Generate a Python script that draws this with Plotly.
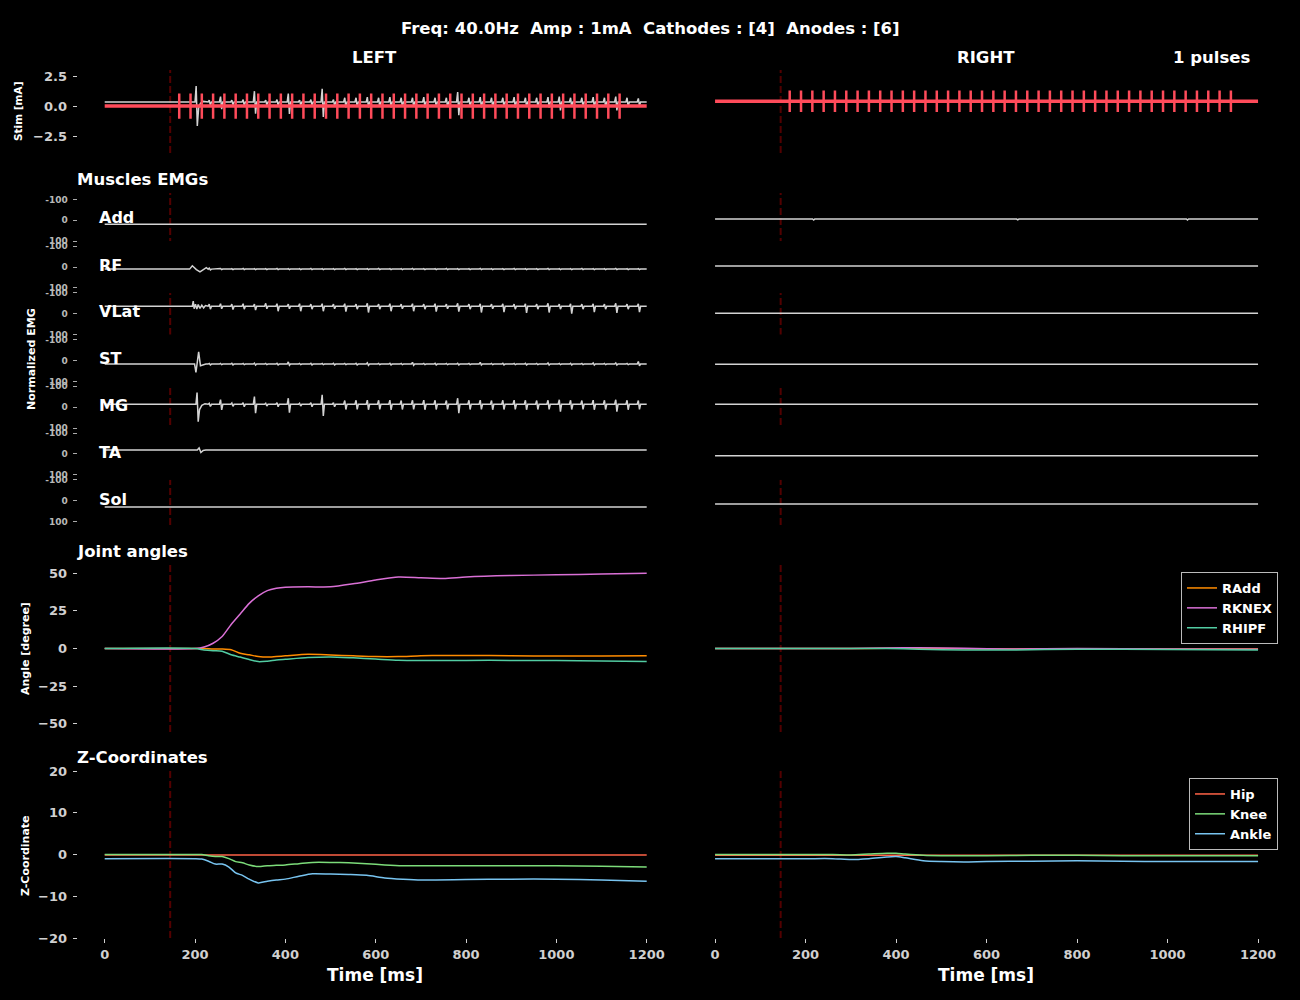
import plotly.graph_objects as go

# ---------------- data ----------------
TIME_RANGE = [-60, 1260]
TIME_TICKS = [0, 200, 400, 600, 800, 1000, 1200]
STIM_ONSET = 145

PULSE_T = [165, 190, 215, 240, 265, 290, 315, 340, 365, 390, 415, 440, 465, 490, 515, 540,
           565, 590, 615, 640, 665, 690, 715, 740, 765, 790, 815, 840, 865, 890, 915, 940,
           965, 990, 1015, 1040, 1065, 1090, 1115, 1140]
STIM_BASE_L, STIM_AMP_L = 0.0, 1.05
STIM_BASE_R, STIM_AMP_R = 0.4, 0.9

# response events (ms) after the first response burst
EMG_T = [230, 255, 280, 305, 330, 355, 380, 405, 430, 455, 480, 505, 530, 555, 580, 605,
         630, 655, 680, 705, 730, 755, 780, 805, 830, 855, 880, 905, 930, 955, 980, 1005,
         1030, 1055, 1080, 1105, 1130, 1155, 1180]

# stim-panel grey trace (mA)
STG_BASE = 0.34
STG_B_T = [200, 202.5, 205, 208, 212, 218, 226]
STG_B_V = [0, 1.33, -2.0, -0.5, -0.1, 0.05, 0]
STG_UP = [0.15, 0.45, 0.15, 0.2, 0.9, 0.15, 0.2, 0.7, 0.15, 0.2, 1.1, 0.2, 0.35, 0.35, 0.4, 0.35,
          0.4, 0.35, 0.35, 0.4, 0.35, 0.35, 0.83, 0.35, 0.4, 0.35, 0.35, 0.4, 0.35, 0.35, 0.4, 0.45,
          0.35, 0.35, 0.4, 0.35, 0.45, 0.35, 0.3]
STG_DN = [0.25, 0.6, 0.25, 0.3, 0.97, 0.25, 0.3, 1.0, 0.25, 0.3, 1.24, 0.3, 0.45, 0.4, 0.45, 0.4,
          0.45, 0.4, 0.4, 0.45, 0.4, 0.4, 1.1, 0.4, 0.45, 0.4, 0.4, 0.45, 0.4, 0.4, 0.45, 0.7,
          0.4, 0.4, 0.45, 0.4, 0.7, 0.4, 0.3]

MUSCLES = ["Add", "RF", "VLat", "ST", "MG", "TA", "Sol"]
EMG_BASE_L = [19, 10, -36, 17, -14, -19, 30]
EMG_BASE_R = [-6, -5, -2, 18, -14, 9, 16]

RF_B_T = [188, 194, 203, 211, 219, 225, 228]
RF_B_V = [0, -16, 2, 13, 2, -7, -2]
RF_L_UP = [5, 3, 2, 3, 2, 2, 3, 2, 2, 3, 2, 2, 3, 2, 2, 3, 2, 2, 3, 2, 2, 3, 2, 2, 3, 2, 2, 3, 2,
           2, 3, 2, 2, 3, 2, 2, 3, 2, 2]
RF_L_DN = [4, 2, 2, 2, 2, 2, 2, 2, 2, 2, 2, 2, 2, 2, 2, 2, 2, 2, 2, 2, 2, 2, 2, 2, 2, 2, 2, 2, 2,
           2, 2, 2, 2, 2, 2, 2, 2, 2, 2]

VLAT_B_T = [194, 196, 198, 201, 204, 207, 211, 215, 219, 223, 227]
VLAT_B_V = [0, -25, 12, -10, 14, -8, 10, -5, 8, -3, 0]
VLAT_L_UP = [10, 12, 10, 12, 10, 14, 12, 10, 12, 10, 12, 10, 12, 10, 14, 10, 12, 10, 12, 10, 12,
             10, 14, 10, 12, 10, 12, 10, 12, 10, 14, 10, 12, 10, 12, 10, 14, 10, 12]
VLAT_L_DN = [14, 12, 16, 14, 18, 12, 24, 12, 24, 14, 24, 12, 26, 14, 30, 14, 24, 12, 24, 14, 26,
             12, 26, 14, 30, 12, 28, 14, 32, 14, 30, 14, 36, 14, 28, 14, 32, 14, 28]

ST_B_T = [199, 202, 205, 208, 212, 217, 224]
ST_B_V = [0, 40, -10, -58, 8, 4, 0]
ST_L_UP = [3, 3, 4, 3, 4, 3, 4, 10, 3, 4, 3, 4, 3, 4, 6, 3, 4, 3, 8, 3, 4, 3, 4, 3, 8, 3, 4, 3,
           4, 3, 5, 3, 4, 3, 5, 3, 5, 3, 12]
ST_L_DN = [4, 3, 4, 3, 5, 3, 4, 6, 3, 4, 3, 4, 3, 4, 6, 3, 4, 3, 6, 3, 4, 3, 4, 3, 5, 3, 4, 3,
           4, 3, 5, 3, 4, 3, 5, 3, 5, 3, 8]

MG_B_T = [202, 204.5, 207, 210, 215, 222, 228]
MG_B_V = [0, -56, 83, 25, 5, -3, 0]
MG_L_UP = [5, 22, 6, 8, 37, 5, 8, 29, 5, 8, 45, 8, 18, 19, 20, 19, 20, 18, 19, 20, 19, 18, 29,
           19, 20, 18, 19, 20, 19, 18, 19, 22, 19, 18, 20, 19, 22, 19, 18]
MG_L_DN = [10, 27, 10, 12, 43, 8, 12, 40, 8, 12, 56, 12, 25, 24, 26, 24, 27, 25, 24, 26, 25, 24,
           43, 25, 24, 26, 25, 24, 26, 25, 24, 35, 25, 24, 26, 25, 35, 26, 24]

TA_B_T = [205, 209, 213, 218, 224]
TA_B_V = [0, -10, 12, 2, 0]

ADD_R_T = [214, 665, 1040]
ADD_R_UP = [0, 0, 0]
ADD_R_DN = [5, 4, 5]

# joint angles (deg)
ANG_T_L = [0, 200, 220, 240, 260, 280, 300, 320, 340, 360, 380, 400, 450, 500, 550, 600, 650,
           700, 750, 800, 900, 1000, 1100, 1200]
RADD_L = [0, 0, 0, -0.3, -0.3, -0.8, -3.2, -4.2, -5.3, -5.7, -5.3, -4.9, -3.9, -4.3, -4.9, -5.4,
          -5.4, -4.8, -4.6, -4.6, -4.8, -5.0, -5.0, -4.8]
RKNEX_L = [0, 0, 1, 3.5, 8, 16, 23, 30, 35, 38.5, 40, 40.7, 41, 41, 43, 45.5, 47.5, 47, 46.5,
           47.5, 48.5, 49, 49.5, 50]
RHIPF_L = [0, 0, -1, -1.5, -1.8, -4.2, -5.7, -7.3, -8.7, -8.4, -7.7, -7.2, -6, -5.6, -6.2, -7,
           -7.8, -8, -8, -7.9, -7.9, -8, -8.3, -8.7]
ANG_T_R = [0, 300, 380, 450, 550, 650, 800, 1000, 1200]
RADD_R = [0, 0, 0.2, 0.1, -0.2, -0.3, -0.2, -0.3, -0.3]
RKNEX_R = [0, 0, 0.3, 0.5, 0.2, -0.3, 0, -0.3, -0.5]
RHIPF_R = [0, 0, 0, -0.5, -1.0, -1.0, -0.5, -0.7, -1.0]

# Z coordinates
Z_T_L = [0, 200, 215, 230, 245, 260, 275, 290, 305, 320, 340, 360, 380, 400, 430, 460, 500,
         540, 580, 620, 660, 700, 800, 900, 1000, 1100, 1200]
KNEE_L = [0, 0, 0, -0.3, -0.5, -0.5, -1.0, -1.7, -2.0, -2.5, -2.9, -2.7, -2.6, -2.5, -2.2, -1.9,
          -1.9, -2.0, -2.2, -2.5, -2.7, -2.7, -2.7, -2.7, -2.7, -2.8, -3.0]
ANKLE_L = [-1, -1, -1.1, -1.6, -2.3, -2.3, -3.0, -4.4, -5.0, -5.9, -6.8, -6.4, -6.1, -5.9, -5.2,
           -4.6, -4.7, -4.8, -5.0, -5.6, -5.9, -6.1, -6.0, -5.9, -5.9, -6.1, -6.4]
HIP_T = [0, 1200]
HIP_L = [-0.1, -0.1]
HIP_R = [-0.2, -0.2]
Z_T_R = [0, 200, 260, 300, 340, 380, 400, 420, 460, 500, 550, 600, 700, 800, 900, 1000, 1100, 1200]
KNEE_R = [0, 0, 0, -0.1, 0.1, 0.3, 0.3, 0.1, -0.2, -0.3, -0.3, -0.3, -0.2, -0.2, -0.3, -0.3, -0.3, -0.3]
ANKLE_R = [-1, -1, -1, -1.2, -1.0, -0.6, -0.5, -0.8, -1.5, -1.7, -1.8, -1.7, -1.6, -1.5, -1.6, -1.7, -1.7, -1.7]

# ---------------- styles ----------------
W, H = 1300, 1000
FONT = "DejaVu Sans"
RED = "#ff4b5a"
GREY = "#d3d3d3"
DASH_COL = "rgba(139,0,0,0.6)"
C_RADD, C_RKNEX, C_RHIPF = "#ff8c00", "#da70d6", "#52cca2"
C_HIP, C_KNEE, C_ANKLE = "#ff6347", "#7cdc7a", "#78c4f0"
TICK_COL = "#d0d0d0"

COLS = [(77.6, 673.8), (687.9, 1285.2)]
EMG_C = [220.3 + 46.73 * k for k in range(7)]
ROWS = ([("stim", 70, 153, [-3.9, 3.0])]
        + [("emg", c - 26, c + 26, [124.4, -124.4]) for c in EMG_C]
        + [("ang", 565, 732, [-55.5, 55.5]), ("z", 771, 938, [-20, 20])])


def sfx(i):
    return "" if i == 1 else str(i)


def build(base, times, ups, downs, sign, burst_t=(), burst_v=()):
    pts = [(0, base), (1200, base)]
    for t, v in zip(burst_t, burst_v):
        pts.append((t, base + v))
    for t, u, d in zip(times, ups, downs):
        pts += [(t - 1, base), (t + 1.5, base + sign * u), (t + 4, base - sign * d), (t + 6.5, base)]
    pts.sort()
    return [p[0] for p in pts], [p[1] for p in pts]


fig = go.Figure()
layout = dict(width=W, height=H, paper_bgcolor="black", plot_bgcolor="black",
              margin=dict(l=0, r=0, t=0, b=0, pad=0, autoexpand=False),
              font=dict(family=FONT, color="white"), showlegend=True)
shapes = []

for ci, (xa, xb) in enumerate(COLS):
    for ri, (kind, ya, yb, rng) in enumerate(ROWS):
        n = ci * 10 + ri + 1
        bottom = ri == len(ROWS) - 1
        layout["xaxis" + sfx(n)] = dict(
            domain=[xa / W, xb / W], range=TIME_RANGE, anchor="y" + sfx(n), automargin=False,
            showgrid=False, zeroline=False, showline=False,
            showticklabels=bottom, ticks="outside" if bottom else "",
            tickvals=TIME_TICKS, ticklen=4, tickcolor=TICK_COL,
            tickfont=dict(size=13, color=TICK_COL, family=FONT, weight="bold"))
        yax = dict(domain=[1 - yb / H, 1 - ya / H], range=rng, anchor="x" + sfx(n),
                   automargin=False, showgrid=False, zeroline=False, showline=False,
                   showticklabels=(ci == 0), ticks="outside" if ci == 0 else "",
                   ticklen=4, tickcolor=TICK_COL, ticklabelstandoff=3)
        if kind == "stim":
            yax.update(tickvals=[-2.5, 0, 2.5], ticktext=["\u22122.5", "0.0", "2.5"],
                       tickfont=dict(size=13, color=TICK_COL, family=FONT, weight="bold"))
        elif kind == "emg":
            yax.update(tickvals=[-100, 0, 100], ticktext=["-100", "0", "100"],
                       tickcolor="#aaaaaa",
                       tickfont=dict(size=9, color="#b8b8b8", family=FONT, weight="bold"))
        elif kind == "ang":
            yax.update(tickvals=[-50, -25, 0, 25, 50],
                       ticktext=["\u221250", "\u221225", "0", "25", "50"],
                       tickfont=dict(size=13, color=TICK_COL, family=FONT, weight="bold"))
        else:
            yax.update(tickvals=[-20, -10, 0, 10, 20],
                       ticktext=["\u221220", "\u221210", "0", "10", "20"],
                       tickfont=dict(size=13, color=TICK_COL, family=FONT, weight="bold"))
        layout["yaxis" + sfx(n)] = yax

# dashed stimulation onset lines
for ci in range(2):
    xr = "x" + sfx(ci * 10 + 1)
    for (ya, yb) in [(70, 153), (193, 525), (565, 732), (771, 938)]:
        shapes.append(dict(type="line", xref=xr, yref="paper", x0=STIM_ONSET, x1=STIM_ONSET,
                           y0=1 - yb / H, y1=1 - ya / H, layer="below",
                           line=dict(color=DASH_COL, width=2, dash="7px,3px")))


def add(x, y, n, color, width=1.5, name=None, legend=None, smooth=False):
    line = dict(color=color, width=width)
    if smooth:
        line.update(shape="spline", smoothing=0.7)
    fig.add_trace(go.Scatter(x=x, y=y, mode="lines", xaxis="x" + sfx(n), yaxis="y" + sfx(n),
                             line=line, name=name, showlegend=legend is not None,
                             legend=legend if legend else "legend", hoverinfo="skip"))


# stim row
gx, gy = build(STG_BASE, EMG_T, STG_UP, STG_DN, 1, STG_B_T, STG_B_V)
add(gx, gy, 1, GREY, 1.5)
for n, base, amp in [(1, STIM_BASE_L, STIM_AMP_L), (11, STIM_BASE_R, STIM_AMP_R)]:
    add([0, 1200], [base, base], n, RED, 3.5)
    px, py = [], []
    for t in PULSE_T:
        px += [t, t, None]
        py += [base - amp, base + amp, None]
    add(px, py, n, RED, 2.5)

# EMG rows
left_events = {
    "Add": ([], [], [], (), ()),
    "RF": (EMG_T, RF_L_UP, RF_L_DN, RF_B_T, RF_B_V),
    "VLat": (EMG_T, VLAT_L_UP, VLAT_L_DN, VLAT_B_T, VLAT_B_V),
    "ST": (EMG_T, ST_L_UP, ST_L_DN, ST_B_T, ST_B_V),
    "MG": (EMG_T, MG_L_UP, MG_L_DN, MG_B_T, MG_B_V),
    "TA": ([], [], [], TA_B_T, TA_B_V),
    "Sol": ([], [], [], (), ()),
}
for k, m in enumerate(MUSCLES):
    t, u, d, bt, bv = left_events[m]
    x, y = build(EMG_BASE_L[k], t, u, d, -1, bt, bv)
    add(x, y, 2 + k, GREY, 1.5)
    if m == "Add":
        x, y = build(EMG_BASE_R[k], ADD_R_T, ADD_R_UP, ADD_R_DN, -1)
    else:
        x, y = build(EMG_BASE_R[k], [], [], [], -1)
    add(x, y, 12 + k, GREY, 1.5)

# joint angles
add(ANG_T_L, RADD_L, 9, C_RADD, smooth=True)
add(ANG_T_L, RKNEX_L, 9, C_RKNEX, smooth=True)
add(ANG_T_L, RHIPF_L, 9, C_RHIPF, smooth=True)
add(ANG_T_R, RADD_R, 19, C_RADD, name="RAdd", legend="legend", smooth=True)
add(ANG_T_R, RKNEX_R, 19, C_RKNEX, name="RKNEX", legend="legend", smooth=True)
add(ANG_T_R, RHIPF_R, 19, C_RHIPF, name="RHIPF", legend="legend", smooth=True)

# Z coordinates
add(HIP_T, HIP_L, 10, C_HIP)
add(Z_T_L, KNEE_L, 10, C_KNEE, smooth=True)
add(Z_T_L, ANKLE_L, 10, C_ANKLE, smooth=True)
add(HIP_T, HIP_R, 20, C_HIP, name="Hip", legend="legend2")
add(Z_T_R, KNEE_R, 20, C_KNEE, name="Knee", legend="legend2", smooth=True)
add(Z_T_R, ANKLE_R, 20, C_ANKLE, name="Ankle", legend="legend2", smooth=True)

leg_style = dict(bgcolor="black", bordercolor="#bbbbbb", borderwidth=1,
                 font=dict(family=FONT, size=13, color="white", weight="bold"),
                 xanchor="right", yanchor="top", itemwidth=30)
layout["legend"] = dict(x=1278 / W, y=1 - 572 / H, **leg_style)
layout["legend2"] = dict(x=1278 / W, y=1 - 778 / H, **leg_style)

# annotations
ann = []


def text(s, x, y, size, xanchor="center", angle=0, color="white"):
    ann.append(dict(text="<b>" + s + "</b>", x=x / W, y=1 - y / H, xref="paper", yref="paper",
                    showarrow=False, xanchor=xanchor, yanchor="middle", textangle=angle,
                    font=dict(family=FONT, size=size, color=color)))


NB = "\u00a0"
text("Freq: 40.0Hz" + NB * 2 + "Amp : 1mA" + NB * 2 + "Cathodes : [4]" + NB * 2 + "Anodes : [6]",
     650, 28, 16.5)
text("LEFT", 375, 57, 16.5)
text("RIGHT", 986, 57, 16.5)
text("1 pulses", 1211, 57, 16.5)
text("Muscles EMGs", 75, 180, 16.5, "left")
text("Joint angles", 75, 551, 16.5, "left")
text("Z-Coordinates", 75, 757, 16.5, "left")
LABEL_Y = [217.5, 265.3, 311.7, 358.8, 405.7, 452.7, 499.0]
for m, yy in zip(MUSCLES, LABEL_Y):
    text(m, 97, yy, 16, "left")
text("Stim [mA]", 18, 112, 10.5, angle=-90)
text("Normalized EMG", 31, 359, 11, angle=-90)
text("Angle [degree]", 25, 649, 11, angle=-90)
text("Z-Coordinate", 25, 856, 11, angle=-90)
text("Time [ms]", 375, 975, 17)
text("Time [ms]", 986, 975, 17)

layout["annotations"] = ann
layout["shapes"] = shapes
fig.update_layout(**layout)
fig.write_html("out.html", config={"displayModeBar": False},
               post_script="document.body.style.margin='0';"
                           "document.body.style.background='black';"
                           "document.documentElement.style.background='black';")
